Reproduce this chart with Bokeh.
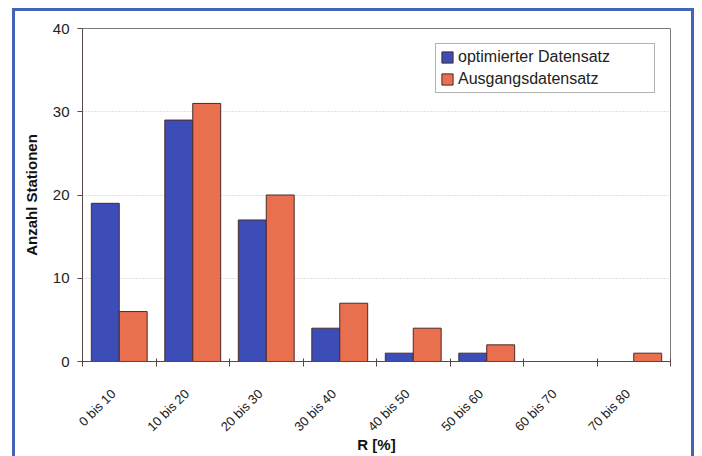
import numpy as np
from math import pi
from bokeh.plotting import figure
from bokeh.models import Range1d, FixedTicker, Legend, LegendItem, ColumnDataSource
from bokeh.embed import file_html
from bokeh.resources import INLINE

categories = ["0 bis 10", "10 bis 20", "20 bis 30", "30 bis 40",
              "40 bis 50", "50 bis 60", "60 bis 70", "70 bis 80"]
optimiert = [19, 29, 17, 4, 1, 1, 0, 0]
ausgang = [6, 31, 20, 7, 4, 2, 0, 1]
y_ticks = [0, 10, 20, 30, 40]

FONT = "Liberation Sans"
BLUE = "#3d4db7"
ORANGE = "#e8704f"
EDGE = "#4a2a2a"
AXIS = "#5a4646"
FRAME_BLUE = "#4263b8"

idx = np.arange(len(categories))
src = ColumnDataSource(dict(
    xb=idx + 0.5 - 0.19, xo=idx + 0.5 + 0.19,
    opt=optimiert, aus=ausgang))

g = f"linear-gradient({FRAME_BLUE},{FRAME_BLUE})"
bg = (f"{g} 12px 8px / 3px 100% no-repeat, "
      f"{g} 12px 8px / 681px 3px no-repeat, "
      f"{g} 691px 8px / 3px 100% no-repeat, white")

p = figure(width=702, height=456, output_backend="svg", toolbar_location=None,
           x_range=Range1d(0, len(categories)), y_range=Range1d(0, 40),
           min_border_left=82, min_border_right=32, min_border_top=28, min_border_bottom=94,
           styles={"background": bg})
p.background_fill_color = "white"
p.border_fill_alpha = 0
p.outline_line_color = "#7a7a7a"
p.outline_line_width = 1

rb = p.vbar(x="xb", top="opt", width=0.38, bottom=0, source=src,
            fill_color=BLUE, line_color=EDGE, line_width=1)
ro = p.vbar(x="xo", top="aus", width=0.38, bottom=0, source=src,
            fill_color=ORANGE, line_color=EDGE, line_width=1)

# x axis: labels near category centres, ticks at boundaries
label_pos = [round(float(i + 0.42), 2) for i in idx]
xa = p.xaxis[0]
xa.ticker = FixedTicker(ticks=label_pos, minor_ticks=list(range(len(categories) + 1)))
xa.major_label_overrides = {lp: c for lp, c in zip(label_pos, categories)}
xa.major_label_orientation = pi / 4
xa.major_tick_line_color = None
xa.minor_tick_in = 3
xa.minor_tick_out = 5
xa.minor_tick_line_color = AXIS
xa.axis_line_color = AXIS
xa.major_label_text_font = FONT
xa.major_label_text_font_size = "13px"
xa.major_label_text_color = "#222222"
xa.major_label_standoff = 24
xa.axis_label = "R [%]"
xa.axis_label_text_font = FONT
xa.axis_label_text_font_style = "bold"
xa.axis_label_text_font_size = "15px"
xa.axis_label_text_color = "#111111"
xa.axis_label_standoff = -6

ya = p.yaxis[0]
ya.ticker = FixedTicker(ticks=y_ticks)
ya.minor_tick_line_color = None
ya.major_tick_in = 0
ya.major_tick_out = 5
ya.major_tick_line_color = AXIS
ya.axis_line_color = AXIS
ya.major_label_text_font = FONT
ya.major_label_text_font_size = "15px"
ya.major_label_text_color = "#222222"
ya.major_label_standoff = 8
ya.axis_label = "Anzahl Stationen"
ya.axis_label_text_font = FONT
ya.axis_label_text_font_style = "bold"
ya.axis_label_text_font_size = "15px"
ya.axis_label_text_color = "#111111"
ya.axis_label_standoff = 10

p.xgrid.grid_line_color = None
p.ygrid.ticker = FixedTicker(ticks=y_ticks)
p.ygrid.grid_line_color = "#c4c4c4"
p.ygrid.grid_line_dash = "1 2"
p.ygrid.grid_line_width = 1

legend = Legend(items=[LegendItem(label="optimierter Datensatz", renderers=[rb]),
                       LegendItem(label="Ausgangsdatensatz", renderers=[ro])],
                location=(353, 268))
legend.label_text_font = FONT
legend.label_text_font_size = "16px"
legend.label_text_color = "#222222"
legend.glyph_width = 14
legend.glyph_height = 14
legend.label_height = 14
legend.label_width = 192
legend.label_standoff = 4
legend.spacing = 4
legend.padding = 4
legend.border_line_color = "#666666"
legend.border_line_width = 1
legend.background_fill_color = "white"
legend.background_fill_alpha = 1
p.add_layout(legend)

open("out.html", "w").write(file_html(p, INLINE))
